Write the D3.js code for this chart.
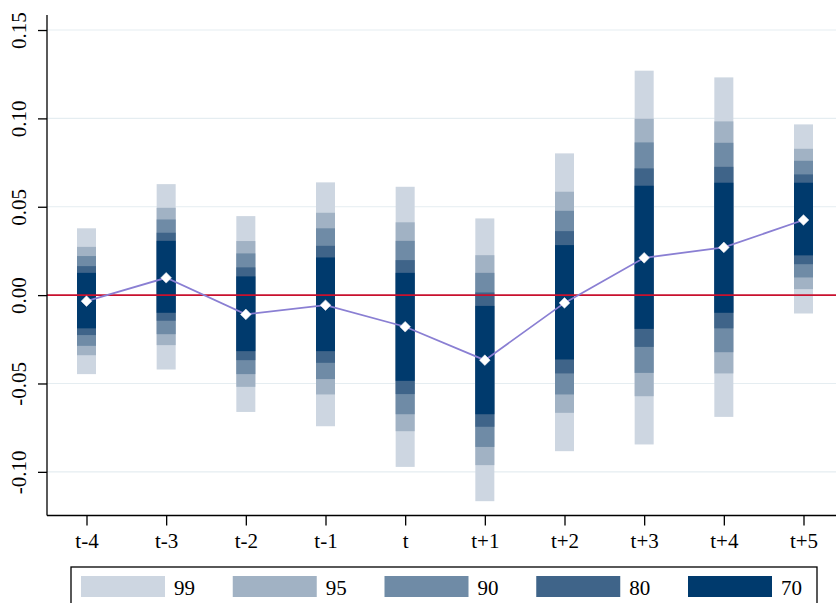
<!DOCTYPE html>
<html>
<head>
<meta charset="utf-8">
<script src="https://cdn.jsdelivr.net/npm/d3@7"></script>
<style>
  html, body { margin: 0; padding: 0; background: #fff; }
  svg { display: block; }
  text { font-family: "Liberation Serif", "Times New Roman", serif; fill: #000; }
</style>
</head>
<body>
<svg id="chart" width="836" height="603"></svg>
<script>
// Event-time periods
const periods = ["t-4", "t-3", "t-2", "t-1", "t", "t+1", "t+2", "t+3", "t+4", "t+5"];

// Point estimates
const estimate = [-0.0034, 0.0098, -0.0109, -0.0057, -0.0179, -0.0368, -0.0044, 0.0211, 0.0270, 0.0425];

// Confidence bounds by level (%)
const upper99 = [0.0378, 0.0628, 0.0447, 0.0638, 0.0613, 0.0434, 0.0802, 0.1270, 0.1232, 0.0966];
const lower99 = [-0.0447, -0.0421, -0.0661, -0.0742, -0.0972, -0.1166, -0.0883, -0.0845, -0.0689, -0.0104];
const upper95 = [0.0273, 0.0494, 0.0306, 0.0466, 0.0412, 0.0226, 0.0585, 0.0998, 0.0983, 0.0828];
const lower95 = [-0.0340, -0.0283, -0.0519, -0.0562, -0.0770, -0.0962, -0.0666, -0.0572, -0.0443, 0.0034];
const upper90 = [0.0221, 0.0428, 0.0236, 0.0378, 0.0307, 0.0126, 0.0477, 0.0864, 0.0862, 0.0760];
const lower90 = [-0.0287, -0.0221, -0.0447, -0.0475, -0.0674, -0.0859, -0.0562, -0.0440, -0.0323, 0.0100];
const upper80 = [0.0164, 0.0353, 0.0157, 0.0279, 0.0198, 0.0015, 0.0362, 0.0717, 0.0726, 0.0683];
const lower80 = [-0.0226, -0.0145, -0.0368, -0.0383, -0.0560, -0.0745, -0.0443, -0.0293, -0.0188, 0.0175];
const upper70 = [0.0126, 0.0307, 0.0106, 0.0213, 0.0126, -0.0061, 0.0283, 0.0619, 0.0636, 0.0636];
const lower70 = [-0.0188, -0.0100, -0.0317, -0.0317, -0.0485, -0.0674, -0.0364, -0.0191, -0.0100, 0.0225];

const levels = ["99", "95", "90", "80", "70"];
const levelColors = ["#cdd6e1", "#a1b2c4", "#6f8ba6", "#3f6489", "#003a6d"];
const yTicks = [-0.10, -0.05, 0.00, 0.05, 0.10, 0.15];

const intervals = [
  { level: "99", lo: lower99, hi: upper99 },
  { level: "95", lo: lower95, hi: upper95 },
  { level: "90", lo: lower90, hi: upper90 },
  { level: "80", lo: lower80, hi: upper80 },
  { level: "70", lo: lower70, hi: upper70 }
];

const svg = d3.select("#chart");
const plot = { left: 47, right: 836, top: 15, bottom: 515.5 };

const y = d3.scaleLinear().domain([-0.1247, 0.1585]).range([plot.bottom, plot.top]);
const x = d3.scalePoint().domain(periods).range([86.5, 803.5]);
const color = d3.scaleOrdinal().domain(levels).range(levelColors);
const barW = 19;

// Two-decimal labels with a plain hyphen for negatives
const fmt2 = d3.formatLocale({ decimal: ".", thousands: ",", grouping: [3], currency: ["", ""], minus: "-" }).format(".2f");

// Horizontal grid lines
svg.append("g")
  .selectAll("line")
  .data(yTicks.filter(d => d !== 0))
  .join("line")
  .attr("x1", plot.left).attr("x2", plot.right)
  .attr("y1", d => y(d)).attr("y2", d => y(d))
  .attr("stroke", "#e5edf1").attr("stroke-width", 1.2);

// Stacked confidence bands, widest first
intervals.forEach(iv => {
  svg.append("g")
    .selectAll("rect")
    .data(periods)
    .join("rect")
    .attr("x", d => x(d) - barW / 2)
    .attr("width", barW)
    .attr("y", (d, i) => y(iv.hi[i]))
    .attr("height", (d, i) => y(iv.lo[i]) - y(iv.hi[i]))
    .attr("fill", color(iv.level));
});

// Zero reference line
svg.append("line")
  .attr("x1", plot.left).attr("x2", plot.right)
  .attr("y1", y(0)).attr("y2", y(0))
  .attr("stroke", "#c8102e").attr("stroke-width", 1.7);

// Estimates line and markers
const line = d3.line().x((d, i) => x(periods[i])).y(d => y(d));
svg.append("path")
  .datum(estimate)
  .attr("d", line)
  .attr("fill", "none")
  .attr("stroke", "#8a7fd3")
  .attr("stroke-width", 1.8);

svg.append("g")
  .selectAll("path")
  .data(estimate)
  .join("path")
  .attr("transform", (d, i) => `translate(${x(periods[i])},${y(d)})`)
  .attr("d", d3.symbol().type(d3.symbolDiamond2).size(72))
  .attr("fill", "#fff")
  .attr("stroke", "#e8e8f0")
  .attr("stroke-width", 0.6);

// Y axis
const yAxis = svg.append("g")
  .attr("transform", `translate(${plot.left},0)`)
  .call(d3.axisLeft(y).tickValues(yTicks).tickFormat(fmt2).tickSize(9).tickSizeOuter(0));
yAxis.select(".domain").attr("stroke", "#000").attr("stroke-width", 1.3)
  .attr("d", `M0,${plot.top}V${plot.bottom}`);
yAxis.selectAll(".tick line").attr("stroke", "#000").attr("stroke-width", 1.3);
yAxis.selectAll(".tick text")
  .attr("font-size", 21)
  .attr("font-family", "Liberation Serif, serif")
  .attr("fill", "#000")
  .attr("text-anchor", "middle")
  .attr("x", 0).attr("dy", 0)
  .attr("transform", "translate(-21,0) rotate(-90)")
  .attr("y", 0);

// X axis
const xAxis = svg.append("g")
  .attr("transform", `translate(0,${plot.bottom})`)
  .call(d3.axisBottom(x).tickSize(10).tickSizeOuter(0).tickPadding(8));
xAxis.select(".domain").attr("stroke", "#000").attr("stroke-width", 1.3)
  .attr("d", `M${plot.left},0H${plot.right}`);
xAxis.selectAll(".tick line").attr("stroke", "#000").attr("stroke-width", 1.3);
xAxis.selectAll(".tick text")
  .attr("font-size", 21)
  .attr("font-family", "Liberation Serif, serif")
  .attr("fill", "#000");

// Legend
const legend = svg.append("g");
legend.append("rect")
  .attr("x", 71).attr("y", 567).attr("width", 746).attr("height", 60)
  .attr("fill", "#fff").attr("stroke", "#000").attr("stroke-width", 1.3);
const legendX = d3.scalePoint().domain(levels).range([81, 688]);
const items = legend.selectAll("g.item").data(levels).join("g").attr("class", "item")
  .attr("transform", d => `translate(${legendX(d)},0)`);
items.append("rect")
  .attr("x", 0).attr("y", 576).attr("width", 84).attr("height", 21)
  .attr("fill", d => color(d));
items.append("text")
  .attr("x", 93).attr("y", 595)
  .attr("font-size", 21)
  .text(d => d);
</script>
</body>
</html>
